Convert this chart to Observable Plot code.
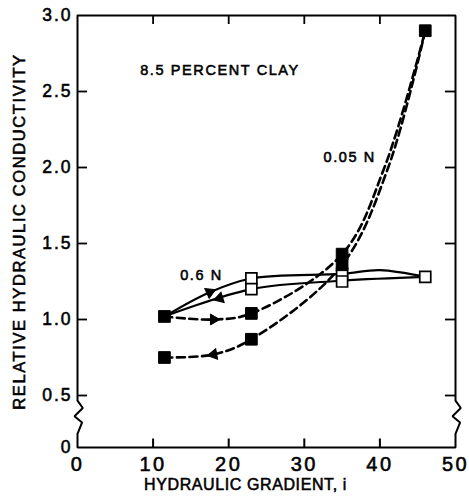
<!DOCTYPE html>
<html><head><meta charset="utf-8">
<script src="https://cdn.jsdelivr.net/npm/d3@7"></script>
<script src="https://cdn.jsdelivr.net/npm/@observablehq/plot@0.6"></script>
<style>body{margin:0;background:#fff}</style>
</head><body><div id="chart"></div>
<script>
// ---- tick labels ----
const xTicks = [0, 10, 20, 30, 40, 50];
const yTicks = [0, 0.5, 1, 1.5, 2, 2.5, 3];
const yTickLabels = ["0", "0.5", "1.0", "1.5", "2.0", "2.5", "3.0"];
const innerXTicks = [10, 20, 30, 40];
const innerYTicks = [0.5, 1, 1.5, 2, 2.5];

// ---- 0.6 N : open squares, solid lines ----
const n06OutX = [11.5, 17.5, 23, 35, 40, 46];
const n06OutY = [1.02, 1.18, 1.27, 1.30, 1.325, 1.28];
const n06BackX = [46, 35, 23, 11.5];
const n06BackY = [1.28, 1.255, 1.20, 1.02];
const openX = [23, 23, 35, 35, 46];
const openY = [1.27, 1.20, 1.30, 1.25, 1.28];

// ---- 0.05 N : filled squares, dashed lines ----
const n005OutX = [11.5, 18, 23, 35, 40.6, 46];
const n005OutY = [1.02, 1.0, 1.04, 1.43, 2.0, 2.9];
const n005BackX = [46, 41.1, 35, 23, 18, 11.5];
const n005BackY = [2.9, 2.0, 1.36, 0.87, 0.77, 0.75];
const filledX = [11.5, 23, 35, 35, 46, 23, 11.5];
const filledY = [1.02, 1.04, 1.43, 1.36, 2.9, 0.87, 0.75];

// ---- direction arrows on curves ----
const arrowX = [17.5, 18.8, 18, 18];
const arrowY = [1.18, 1.14, 1.0, 0.77];
const arrowDir = [66, 253, 90, 260];

// ---- annotations ----
const noteText = ["8.5 PERCENT CLAY", "0.05 N", "0.6 N"];
const noteX = [18.85, 36, 16.4];
const noteY = [2.64, 2.07, 1.29];

// ---- axis break (zigzag) ----
const zigDX = [0, 0.7, -0.4, 0.6, 0];
const zigY = [0.45, 0.38, 0.30, 0.24, 0.13];

const xLabel = "HYDRAULIC GRADIENT, i";
const yLabel = "RELATIVE HYDRAULIC CONDUCTIVITY";

// broken axis: values below 0.5 are compressed
const BREAK = 0.5, SQUEEZE = 52 / 76;
const g = v => v >= BREAK ? v : BREAK - (BREAK - v) * SQUEEZE;

const pts = (xs, ys) => xs.map((x, i) => ({x, y: g(ys[i])}));

const W = 469, H = 500, MT = 15, MB = 53;
const pxPerUnit = (H - MT - MB) / (3 - g(0));
const bottomTickLen = 9 / pxPerUnit;

// frame polyline with breaks on left and right, and inward ticks on the bottom edge
const frame = [{x: 0, y: 3}];
zigDX.forEach((d, i) => frame.push({x: 0 + d, y: g(zigY[i])}));
frame.push({x: 0, y: g(0)});
innerXTicks.forEach(t => frame.push({x: t, y: g(0)}, {x: t, y: g(0) + bottomTickLen}, {x: t, y: g(0)}));
frame.push({x: 50, y: g(0)});
for (let i = zigDX.length - 1; i >= 0; i--) frame.push({x: 50 + zigDX[i], y: g(zigY[i])});
frame.push({x: 50, y: 3}, {x: 0, y: 3});

const arrows = arrowX.map((x, i) => ({x, y: g(arrowY[i]), r: arrowDir[i]}));
const notes = noteText.map((t, i) => ({t, x: noteX[i], y: g(noteY[i])}));

const dash = "8,4.5";
const chart = Plot.plot({
  width: W, height: H,
  marginLeft: 77, marginRight: 14, marginTop: MT, marginBottom: MB,
  style: {fontFamily: "'Liberation Sans', Arial, sans-serif", background: "white", color: "black", overflow: "visible"},
  x: {domain: [0, 50]},
  y: {domain: [g(0), 3]},
  marks: [
    Plot.line(frame, {x: "x", y: "y", stroke: "black", strokeWidth: 2, strokeLinejoin: "miter"}),
    Plot.axisX({anchor: "top", ticks: innerXTicks, tickSize: -8, text: null, strokeWidth: 1.8, label: null}),
    Plot.axisY({anchor: "left", ticks: innerYTicks.map(g), tickSize: -10, text: null, strokeWidth: 1.8, label: null}),
    Plot.axisY({anchor: "right", ticks: innerYTicks.map(g), tickSize: -11, text: null, strokeWidth: 1.8, label: null}),
    Plot.axisX({anchor: "bottom", ticks: xTicks, tickSize: 0, tickPadding: 9, fontSize: 20, label: null, tickFormat: d => String(d)}),
    Plot.axisY({anchor: "left", ticks: yTicks.map(g), tickSize: 0, tickPadding: 5, fontSize: 17.5, label: null,
      tickFormat: (d, i) => yTickLabels[i]}),
    Plot.text([xLabel], {text: d => d, frameAnchor: "bottom", dx: -21, dy: 42, fontSize: 16, textAnchor: "middle"}),
    Plot.text([yLabel], {text: d => d, frameAnchor: "left", rotate: -90, dx: -58, dy: 0, fontSize: 16.5, textAnchor: "middle"}),
    // curves
    Plot.line(pts(n06OutX, n06OutY), {x: "x", y: "y", curve: "catmull-rom", stroke: "black", strokeWidth: 2.2}),
    Plot.line(pts(n06BackX, n06BackY), {x: "x", y: "y", curve: "catmull-rom", stroke: "black", strokeWidth: 2.2}),
    Plot.line(pts(n005OutX, n005OutY), {x: "x", y: "y", curve: "catmull-rom", stroke: "black", strokeWidth: 2.6, strokeDasharray: dash}),
    Plot.line(pts(n005BackX, n005BackY), {x: "x", y: "y", curve: "catmull-rom", stroke: "black", strokeWidth: 2.6, strokeDasharray: dash}),
    Plot.dot(arrows, {x: "x", y: "y", rotate: "r", symbol: "triangle", r: 4, fill: "black", stroke: "black", strokeWidth: 1}),
    // points
    Plot.dot(pts(openX, openY), {x: "x", y: "y", symbol: "square", r: 6.2, fill: "white", stroke: "black", strokeWidth: 1.7}),
    Plot.dot(pts(filledX, filledY), {x: "x", y: "y", symbol: "square", r: 6.6, fill: "black", stroke: "black", strokeWidth: 1}),
    // notes
    Plot.text(notes, {x: "x", y: "y", text: "t", fontSize: 14.5, textAnchor: "middle"})
  ]
});
document.getElementById("chart").appendChild(chart);
const svg = d3.select(chart);
svg.selectAll("g[aria-label='x-axis tick label'] text").attr("letter-spacing", 2.5);
svg.selectAll("g[aria-label='y-axis tick label'] text").attr("letter-spacing", 2);
svg.selectAll("g[aria-label='text'] text").attr("letter-spacing", 1.6);
svg.selectAll("g[aria-label='text'] text").each(function () {
  const t = d3.select(this).text();
  if (t === xLabel) d3.select(this).attr("letter-spacing", 0.6);
  if (t === yLabel) d3.select(this).attr("letter-spacing", 1.6);
});
svg.selectAll("text").attr("stroke", "black").attr("stroke-width", 0.55);
</script>
</body></html>
